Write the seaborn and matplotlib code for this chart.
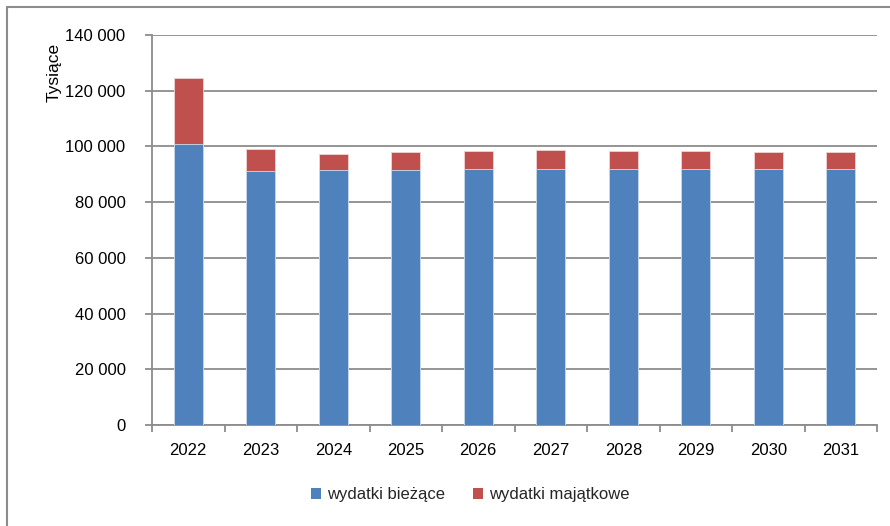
import matplotlib
matplotlib.use("Agg")
import matplotlib.pyplot as plt
import matplotlib.ticker as mticker
from matplotlib.lines import Line2D
from matplotlib.patches import Patch
import seaborn as sns
import pandas as pd

years = ["2022", "2023", "2024", "2025", "2026", "2027", "2028", "2029", "2030", "2031"]
biezace = [100900, 91100, 91400, 91400, 91800, 91800, 91800, 91800, 91800, 92000]
majatkowe = [23800, 7900, 5800, 6500, 6600, 6800, 6600, 6600, 6100, 5900]
series_names = ["wydatki bieżące", "wydatki majątkowe"]
colors = ["#4F81BD", "#C0504D"]

sns.set_theme(style="white")
plt.rcParams["font.family"] = ["Liberation Sans", "DejaVu Sans"]

df = pd.DataFrame({"rok": years, "b": biezace, "m": majatkowe})
df["total"] = df["b"] + df["m"]

fig = plt.figure(figsize=(8.9, 5.26), dpi=100)
ax = fig.add_axes([152 / 890, 1 - 425 / 526, (877 - 152) / 890, (425 - 35) / 526])

grid_c = "#8C8C8C"
sns.barplot(data=df, x="rok", y="total", color=colors[1], width=0.4, ax=ax,
            saturation=1, edgecolor="#F2D4D3", linewidth=0.6, zorder=3)
sns.barplot(data=df, x="rok", y="b", color=colors[0], width=0.4, ax=ax,
            saturation=1, edgecolor="#CCDCEE", linewidth=0.6, zorder=4)

ax.set_ylim(0, 140000)
ax.set_xlim(-0.5, len(years) - 0.5)
ax.yaxis.set_major_locator(mticker.MultipleLocator(20000))
ax.yaxis.set_major_formatter(mticker.FuncFormatter(lambda v, p: f"{int(v):,}".replace(",", " ")))
ax.grid(axis="y", color=grid_c, linewidth=1.3, zorder=0)
ax.set_axisbelow(True)

for s in ["top", "right"]:
    ax.spines[s].set_visible(False)
for s in ["left", "bottom"]:
    ax.spines[s].set_color(grid_c)
    ax.spines[s].set_linewidth(1.3)

ax.tick_params(axis="y", which="both", left=True, length=5, width=1.3, color=grid_c,
               labelsize=12, pad=14, labelcolor="black")
ax.tick_params(axis="x", which="major", bottom=False, labelsize=12, pad=7, labelcolor="black")
ax.xaxis.set_minor_locator(mticker.FixedLocator([i + 0.5 for i in range(-1, len(years))]))
ax.tick_params(axis="x", which="minor", bottom=True, length=5, width=1.3, color=grid_c)

ax.set_xlabel("")
ax.set_ylabel("Tysiące", fontsize=12.5, color="black")
ax.yaxis.set_label_coords(-0.124, 0.905)

handles = [Patch(facecolor=c, edgecolor="none") for c in colors]
fig.legend(handles, series_names, loc="center", bbox_to_anchor=(470 / 890, 1 - 495 / 526),
           ncol=2, frameon=False, fontsize=12, handlelength=0.6, handleheight=0.6,
           handletextpad=0.35, columnspacing=1.7)

# outer frame lines
fig.add_artist(Line2D([6.5 / 890, 6.5 / 890], [0, 1 - 7 / 526], transform=fig.transFigure,
                      color="#8C8C8C", linewidth=1.5))
fig.add_artist(Line2D([6.5 / 890, 1], [1 - 7 / 526, 1 - 7 / 526], transform=fig.transFigure,
                      color="#8C8C8C", linewidth=1.5))

fig.savefig("out.png", dpi=100)
